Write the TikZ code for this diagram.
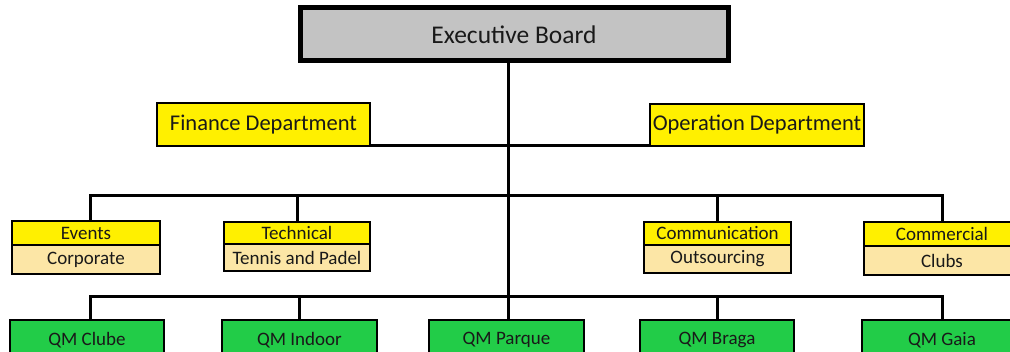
\documentclass[tikz,border=0pt]{standalone}
\usepackage{fontspec}
\setmainfont{Carlito}
\definecolor{boardgray}{HTML}{C3C3C3}
\definecolor{deptyellow}{HTML}{FFF000}
\definecolor{subtan}{HTML}{FCE6A6}
\definecolor{clubgreen}{HTML}{22CC48}
\tikzset{
  box/.style={draw, line width=2.5pt, inner sep=0pt, outer sep=0pt, text=black!90},
  dept/.style={box, fill=deptyellow, font=\fontsize{22.5}{24}\selectfont},
  head/.style={box, fill=deptyellow, font=\fontsize{19}{21}\selectfont},
  sub/.style={box, fill=subtan, font=\fontsize{19}{21}\selectfont},
  club/.style={box, fill=clubgreen, font=\fontsize{19}{21}\selectfont},
  link/.style={line width=3pt}
}
\begin{document}
\begin{tikzpicture}[x=1pt, y=-1pt]
      \useasboundingbox (0,0) rectangle (1010,352);
      \clip (0,0) rectangle (1010,352);
      \draw
        (514,34.5) node[box, line width=5pt, fill=boardgray, minimum width=428pt, minimum height=53pt,
          font=\fontsize{25.5}{27}\selectfont] (exec){Executive Board}
        (263.5,124.5) node[dept, minimum width=213pt, minimum height=43pt] (fin){Finance Department}
        (757,125) node[dept, minimum width=214pt, minimum height=42pt] (op){Operation Department};
      \draw
        (86,233) node[head, minimum width=148pt, minimum height=24pt] (events){Events}
        (297,233) node[head, minimum width=146pt, minimum height=22pt] (technical){Technical}
        (717.5,233.5) node[head, minimum width=147pt, minimum height=23pt] (communication){Communication}
        (942,234) node[head, minimum width=156pt, minimum height=24pt] (commercial){Commercial};
      \node[sub, minimum width=148pt, minimum height=29pt, anchor=north] (corporate) at (events.south) {Corporate};
      \node[sub, minimum width=146pt, minimum height=27pt, anchor=north] (tennis) at (technical.south) {Tennis and Padel};
      \node[sub, minimum width=147pt, minimum height=28pt, anchor=north] (outsourcing) at (communication.south) {Outsourcing};
      \node[sub, minimum width=156pt, minimum height=29pt, anchor=north] (clubs) at (commercial.south) {Clubs};
      \draw
        (87,340) node[club, minimum width=154pt, minimum height=40pt] (clube){QM Clube}
        (299.5,340) node[club, minimum width=155pt, minimum height=40pt] (indoor){QM Indoor}
        (506.5,340) node[club, minimum width=155pt, minimum height=40pt] (parque){QM Parque}
        (717,340) node[club, minimum width=154pt, minimum height=40pt] (braga){QM Braga}
        (942,340) node[club, minimum width=160pt, minimum height=40pt] (gaia){QM Gaia};
      \coordinate (bus1) at (508,196);
      \coordinate (bus2) at (508,297);
      \begin{scope}[link]
        \draw (parque.north -| bus1) -- (exec.south -| bus1);
        \draw (fin.south east) -- (op.south west);
        \draw (events.north -| 90,0) |- (bus1) -| (commercial.north);
        \draw (technical.north) |- (bus1);
        \draw (communication.north) |- (bus1);
        \draw (clube.north -| 90,0) |- (bus2) -| (gaia.north);
        \draw (indoor.north) |- (bus2);
        \draw (braga.north) |- (bus2);
      \end{scope}
    \end{tikzpicture}
\end{document}
